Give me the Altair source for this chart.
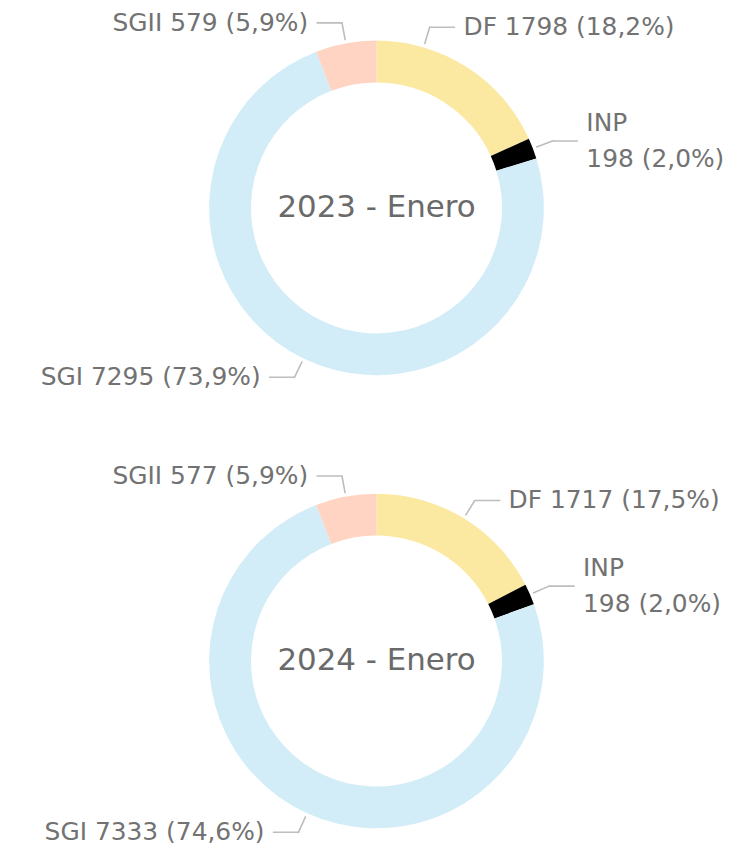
import altair as alt
import pandas as pd

categories = ["DF", "INP", "SGI", "SGII"]
values_2023 = [1798, 198, 7295, 579]
values_2024 = [1717, 198, 7333, 577]
titles = ["2023 - Enero", "2024 - Enero"]
colors = ["#FBE8A1", "#000000", "#D2EDF7", "#FFD4C2"]

# layout: label leader-angle nudges (degrees) per panel, as in the original's label placement
LABEL_NUDGE = [{"DF": -16.4}, {}]

FONT = "DejaVu Sans"
TEXT_COLOR = "#727272"
LINE_COLOR = "#BDBDBD"
W = 740
R_IN, R_OUT = 126, 168
R1, R2 = 172, 189
SEG2, GAP = 25, 9
LINE_H = 36


def make_table(vals):
    total = sum(vals)
    labels = []
    for c, v in zip(categories, vals):
        pct = f"{v / total * 100:.1f}".replace(".", ",")
        sep = "\n" if c == "INP" else " "
        labels.append(f"{c}{sep}{v} ({pct}%)")
    return pd.DataFrame({"cat": categories, "value": vals,
                         "order": list(range(len(vals))), "label": labels})


def donut(vals, title, H, nudge):
    df = make_table(vals)
    xs = alt.Scale(domain=[-W / 2, W / 2], nice=False, zero=False)
    ys = alt.Scale(domain=[-H / 2, H / 2], nice=False, zero=False)

    nudge_expr = "0"
    for k, d in nudge.items():
        nudge_expr = f"(datum.cat == '{k}' ? {d} : {nudge_expr})"

    arc = alt.Chart(df).mark_arc(innerRadius=R_IN, outerRadius=R_OUT).encode(
        theta=alt.Theta("value:Q", stack=True),
        order=alt.Order("order:Q"),
        color=alt.Color("cat:N", scale=alt.Scale(domain=categories, range=colors), legend=None),
    )

    geo = alt.Chart(df).transform_window(
        cum="sum(value)", sort=[alt.SortField("order")], frame=[None, 0]
    ).transform_joinaggregate(total="sum(value)").transform_calculate(
        mid=f"(datum.cum - datum.value/2)/datum.total*2*PI + {nudge_expr}*PI/180",
    ).transform_calculate(
        side="sin(datum.mid) >= 0 ? 1 : -1",
        x1=f"{R1}*sin(datum.mid)", y1=f"{R1}*cos(datum.mid)",
        x2=f"{R2}*sin(datum.mid)", y2=f"{R2}*cos(datum.mid)",
    ).transform_calculate(
        x3=f"datum.x2 + datum.side*{SEG2}",
        tx=f"datum.x2 + datum.side*{SEG2 + GAP}",
        ty=f"datum.y2 + (indexof(datum.label, '\\n') >= 0 ? {LINE_H / 2} : 0)",
    )

    rule_style = dict(color=LINE_COLOR, strokeWidth=1.6, strokeCap="round")
    seg1 = geo.mark_rule(**rule_style).encode(
        x=alt.X("x1:Q", scale=xs, axis=None), y=alt.Y("y1:Q", scale=ys, axis=None),
        x2="x2:Q", y2="y2:Q",
    )
    seg2 = geo.mark_rule(**rule_style).encode(
        x=alt.X("x2:Q", scale=xs, axis=None), y=alt.Y("y2:Q", scale=ys, axis=None),
        x2="x3:Q", y2="y2:Q",
    )
    txt_style = dict(font=FONT, fontSize=25, color=TEXT_COLOR, baseline="middle",
                     lineBreak="\n", lineHeight=LINE_H)
    right = geo.transform_filter("datum.side > 0").mark_text(align="left", **txt_style).encode(
        x=alt.X("tx:Q", scale=xs, axis=None), y=alt.Y("ty:Q", scale=ys, axis=None),
        text="label:N",
    )
    left = geo.transform_filter("datum.side < 0").mark_text(align="right", **txt_style).encode(
        x=alt.X("tx:Q", scale=xs, axis=None), y=alt.Y("ty:Q", scale=ys, axis=None),
        text="label:N",
    )
    center = alt.Chart(pd.DataFrame({"t": [title]})).mark_text(
        font=FONT, fontSize=31, color="#6A6A6A", align="center", baseline="middle"
    ).encode(
        x=alt.value(W / 2), y=alt.value(H / 2), text="t:N"
    )
    return alt.layer(arc, seg1, seg2, right, left, center).properties(width=W, height=H)


chart = alt.vconcat(
    donut(values_2023, titles[0], 398, LABEL_NUDGE[0]),
    donut(values_2024, titles[1], 366, LABEL_NUDGE[1]),
    spacing=73,
    bounds="flush",
).properties(padding=0).configure_view(stroke=None)

chart.save("out.html", embed_options={"renderer": "svg", "actions": False})
